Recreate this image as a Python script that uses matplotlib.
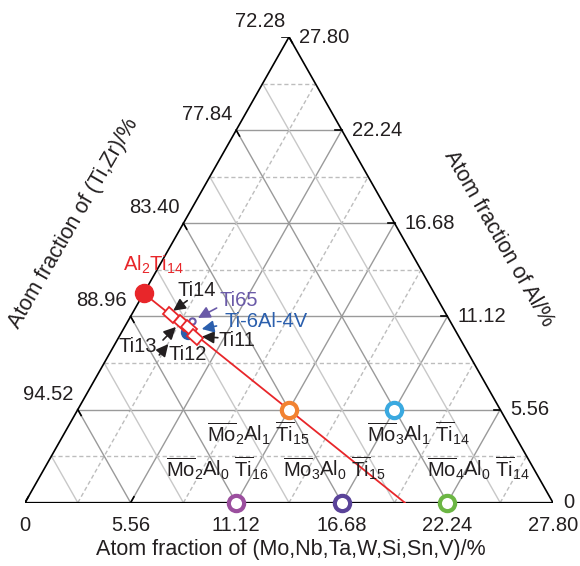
import numpy as np
import matplotlib
matplotlib.use('Agg')
import matplotlib.pyplot as plt
from matplotlib.markers import MarkerStyle
from matplotlib.transforms import Affine2D

plt.rcParams['font.family'] = ['Liberation Sans', 'DejaVu Sans']
plt.rcParams['mathtext.fontset'] = 'custom'
plt.rcParams['mathtext.rm'] = 'Liberation Sans'
plt.rcParams['mathtext.it'] = 'Liberation Sans:italic'
plt.rcParams['mathtext.bf'] = 'Liberation Sans:bold'

TXT = '#231f20'
FS = 14.5

# axis range (atom %)
span = 27.8
step = 5.56
ti_top = 72.28

# reference line Al2Ti14 -> Mo4Ti16 (Mo %, Al %)
line_mo = [0.0, 20.0]
line_al = [12.5, 0.0]

# Al2Ti14 point
al2ti14_mo, al2ti14_al = 0.0, 12.5

# designed alloys (open circles)
ring_names = [r'$\overline{\mathrm{Mo}}_2\mathrm{Al}_1\ \overline{\mathrm{Ti}}_{15}$',
              r'$\overline{\mathrm{Mo}}_3\mathrm{Al}_1\ \overline{\mathrm{Ti}}_{14}$',
              r'$\overline{\mathrm{Mo}}_2\mathrm{Al}_0\ \overline{\mathrm{Ti}}_{16}$',
              r'$\overline{\mathrm{Mo}}_3\mathrm{Al}_0\ \overline{\mathrm{Ti}}_{15}$',
              r'$\overline{\mathrm{Mo}}_4\mathrm{Al}_0\ \overline{\mathrm{Ti}}_{14}$']
ring_mo = [11.11, 16.67, 11.11, 16.67, 22.22]
ring_al = [5.56, 5.56, 0.0, 0.0, 0.0]
ring_colors = ['#f28231', '#3aa9e0', '#9b4f9e', '#5a4399', '#6cb644']
ring_label_off = [(-30, -24), (24, -24), (-19, 34), (-7, 34), (31, 34)]

# Ti14..Ti11 alloys on the line
sq_names = ['Ti14', 'Ti13', 'Ti12', 'Ti11']
sq_mo = [2.07, 2.88, 3.44, 3.99]
sq_al = [11.21, 10.75, 10.41, 9.91]

# commercial alloys
ti65_mo, ti65_al = 3.35, 10.85
tc4_mo, tc4_al = 3.47, 10.21

# label / arrow positions (Mo, Al)
lab_pos = {'Ti14': (2.69, 12.69), 'Ti13': (1.30, 9.30), 'Ti12': (4.17, 8.82),
           'Ti11': (6.29, 9.71), 'Ti65': (5.20, 12.06), 'Ti-6Al-4V': (7.28, 10.81)}
arrows = {'Ti14': ((2.51, 12.06), (2.07, 11.46)), 'Ti13': ((2.41, 9.71), (2.70, 10.49)),
          'Ti12': ((2.66, 8.82), (2.81, 9.47)), 'Ti11': ((5.23, 9.85), (4.36, 9.91)),
          'Ti65': ((4.28, 11.62), (3.59, 11.03)), 'Ti-6Al-4V': ((4.81, 10.55), (4.12, 10.37))}
lab_col = {'Ti14': TXT, 'Ti13': TXT, 'Ti12': TXT, 'Ti11': TXT,
           'Ti65': '#6a5aa8', 'Ti-6Al-4V': '#2b5fad'}


def tern(mo, al):
    mo = np.asarray(mo, dtype=float)
    al = np.asarray(al, dtype=float)
    return mo + al / 2, al


fig = plt.figure(figsize=(5.8, 5.66), dpi=100)
ax = fig.add_axes([25 / 580, 63.3 / 566, 528 / 580, 465.7 / 566])
ax.set_xlim(0, span)
ax.set_ylim(0, span)
ax.axis('off')

# grid
for k in range(1, 10):
    v = k * step / 2
    full = k % 2 == 0
    c = '#9a9a9a' if full else '#bdbdbd'
    ls = '-' if full else (0, (3, 2))
    # const Al
    x, y = tern([0, span - v], [v, v])
    ax.plot(x, y, color=c, lw=1.0, ls=ls, zorder=1)
    # const Mo
    x, y = tern([v, v], [0, span - v])
    ax.plot(x, y, color=c, lw=1.0, ls=ls, zorder=1)
    # const Ti
    x, y = tern([0, v], [v, 0])
    ax.plot(x, y, color='#9a9a9a' if full else '#c8c8c8', lw=1.0, zorder=1)

# frame
x, y = tern([0, span, 0, 0], [0, 0, span, 0])
ax.plot(x, y, color='black', lw=1.2, zorder=2, solid_joinstyle='miter')

# ticks and tick labels
tl = 0.35
for k in range(6):
    v = k * step
    # bottom (Mo)
    x, y = tern([v, v], [0, tl])
    ax.plot(x, y, color='black', lw=1.2, zorder=2)
    ax.annotate('0' if k == 0 else f'{v:.2f}', tern(v, 0), xytext=(0, -13),
                textcoords='offset pixels', ha='center', va='top', fontsize=FS, color=TXT)
    # right (Al)
    x, y = tern([span - v, span - v - tl], [v, v])
    ax.plot(x, y, color='black', lw=1.2, zorder=2)
    ax.annotate('0' if k == 0 else f'{v:.2f}', tern(span - v, v), xytext=(10, 0),
                textcoords='offset pixels', ha='left', va='center', fontsize=FS, color=TXT)
    # left (Ti,Zr)
    if k > 0:
        x, y = tern([0, tl], [v, v - tl])
        ax.plot(x, y, color='black', lw=1.2, zorder=2)
        ax.annotate(f'{ti_top + span - v:.2f}', tern(0, v), xytext=(-4, 6),
                    textcoords='offset pixels', ha='right', va='bottom', fontsize=FS, color=TXT)

# red line and Al2Ti14
x, y = tern(line_mo, line_al)
ax.plot(x, y, color='#e8262a', lw=1.3, zorder=3)
ax.plot(*tern(al2ti14_mo, al2ti14_al), 'o', ms=13, color='#e8262a', mec='#e8262a', zorder=6)
ax.annotate(r'Al$_2$Ti$_{14}$', tern(al2ti14_mo, al2ti14_al), xytext=(-21, 28),
            textcoords='offset pixels', ha='left', va='center', fontsize=FS, color='#e8262a')

# commercial alloys
ax.plot(*tern(tc4_mo, tc4_al), 'o', ms=10, color='#2b5fad', zorder=3.5)
ax.plot(*tern(ti65_mo, ti65_al), 'o', ms=4.5, mfc='none', mec='#6a5aa8', mew=1.5, zorder=3.6)

# Ti14..Ti11 boxes
box = MarkerStyle('s', transform=Affine2D().scale(1.5, 1.0).rotate_deg(-38.8))
for mo, al in zip(sq_mo, sq_al):
    ax.plot(*tern(mo, al), marker=box, ms=6.5, mfc='white', mec='#e8262a', mew=1.3, zorder=4)

for name, (mo, al) in lab_pos.items():
    ax.annotate(name, tern(mo, al), ha='center', va='center', fontsize=FS, color=lab_col[name])
    tail, tip = arrows[name]
    ax.annotate('', xy=tern(*tip), xytext=tern(*tail), fontsize=FS,
                arrowprops=dict(arrowstyle='-|>,head_length=0.5,head_width=0.25',
                                color=lab_col[name], lw=1.2, shrinkA=0, shrinkB=0))

# designed alloys
for name, mo, al, c, off in zip(ring_names, ring_mo, ring_al, ring_colors, ring_label_off):
    ax.plot(*tern(mo, al), 'o', ms=11, mfc='white', mec=c, mew=3, zorder=5, clip_on=False)
    ax.annotate(name, tern(mo, al), xytext=off, textcoords='offset pixels',
                ha='center', va='center', fontsize=FS, color=TXT)

# axis titles
TFS = 15.5
fig.text(291 / 580, 1 - 550 / 566, 'Atom fraction of (Mo,Nb,Ta,W,Si,Sn,V)/%',
         ha='center', va='center', fontsize=TFS, color=TXT)
fig.text(74 / 580, 1 - 223 / 566, 'Atom fraction of (Ti,Zr)/%', rotation=60,
         ha='center', va='center', fontsize=TFS, color=TXT, rotation_mode='anchor')
fig.text(499 / 580, 1 - 239 / 566, 'Atom fraction of Al/%', rotation=-60,
         ha='center', va='center', fontsize=TFS, color=TXT, rotation_mode='anchor')

fig.savefig('out.png', dpi=100)
